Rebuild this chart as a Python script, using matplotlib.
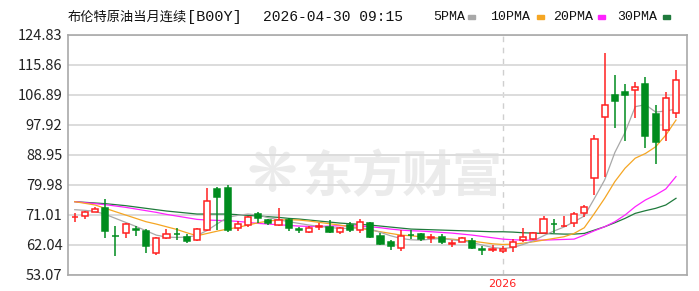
import matplotlib
matplotlib.use("Agg")
import matplotlib.pyplot as plt
import numpy as np

plt.rcParams['font.family'] = ['Noto Sans CJK SC', 'DejaVu Sans']

title_cn = "布伦特原油当月连续"
title_code = "[B00Y]"
title_time = "2026-04-30 09:15"
yticks = [53.07, 62.04, 71.01, 79.98, 88.95, 97.92, 106.89, 115.86, 124.83]
year_label = "2026"
year_index = 42

opens = [70.3, 70.7, 72.0, 73.0, 64.8, 65.5, 66.8, 66.3, 59.5, 64.2,
         65.4, 64.5, 63.5, 66.5, 78.7, 79.0, 67.0, 68.0, 71.2, 69.5,
         68.0, 69.6, 66.8, 66.0, 67.4, 67.5, 65.8, 68.0, 66.5, 68.7,
         64.7, 62.8, 61.0, 65.1, 65.3, 64.2, 64.5, 62.4, 63.0, 63.3,
         60.8, 60.5, 60.3, 61.5, 63.5, 63.8, 65.5, 68.4, 67.6, 68.5,
         71.5, 82.0, 100.2, 106.9, 107.7, 108.4, 110.1, 101.2, 96.4, 101.5]
highs = [71.7, 72.3, 73.5, 75.7, 67.7, 68.6, 67.7, 66.7, 64.5, 66.7,
         67.0, 65.3, 67.0, 79.0, 79.5, 80.0, 69.3, 70.7, 72.0, 69.8,
         73.2, 70.2, 67.5, 67.7, 68.7, 69.5, 67.4, 68.8, 69.7, 69.0,
         65.5, 63.5, 66.5, 66.5, 65.5, 65.3, 65.3, 63.5, 64.3, 64.0,
         61.7, 62.0, 61.7, 63.7, 67.0, 66.0, 70.7, 69.7, 70.7, 72.0,
         74.0, 95.0, 119.5, 112.8, 110.2, 110.8, 112.4, 104.0, 107.9, 114.3]
lows = [69.0, 69.7, 71.8, 64.2, 58.7, 64.2, 64.7, 59.5, 59.0, 63.7,
        63.5, 62.5, 63.3, 66.2, 66.5, 66.0, 66.2, 67.5, 68.5, 68.0,
        67.7, 66.3, 65.5, 65.5, 66.5, 65.5, 65.3, 66.0, 65.7, 64.2,
        62.0, 60.5, 60.3, 63.7, 63.3, 62.5, 62.3, 61.5, 62.8, 60.7,
        59.0, 60.0, 59.5, 60.0, 63.0, 63.5, 65.3, 65.5, 67.5, 67.3,
        70.5, 77.0, 82.3, 97.0, 93.0, 100.0, 90.9, 86.4, 93.2, 100.0]
closes = [70.5, 71.8, 72.8, 66.3, 64.6, 68.2, 66.6, 61.7, 64.0, 65.2,
          65.2, 63.3, 66.8, 75.2, 76.3, 66.5, 68.3, 70.5, 70.0, 68.5,
          69.5, 67.0, 66.6, 67.2, 67.6, 66.0, 67.0, 66.5, 68.8, 64.5,
          62.2, 61.7, 64.7, 64.9, 63.7, 64.4, 63.0, 62.6, 64.0, 61.2,
          60.6, 60.7, 60.7, 63.0, 64.3, 65.7, 69.7, 68.2, 67.8, 71.3,
          73.5, 93.7, 103.9, 105.0, 106.8, 109.3, 94.7, 92.7, 105.9, 111.4]

ma5 = [72.6, 72.4, 72.1, 71.2, 70.0, 68.8, 67.6, 66.3, 65.0, 64.4,
       64.3, 64.4, 64.9, 66.4, 68.4, 70.3, 70.9, 71.3, 71.0, 70.2,
       69.6, 69.0, 68.5, 68.0, 67.6, 67.3, 67.0, 67.0, 67.2, 66.8,
       65.8, 64.8, 64.0, 63.6, 63.5, 63.8, 64.0, 63.6, 63.3, 62.8,
       62.0, 61.3, 61.0, 61.3, 62.2, 63.3, 64.8, 66.2, 67.4, 69.0,
       70.7, 76.0, 81.5, 89.7, 95.7, 103.4, 104.0, 101.8, 102.1, 102.7]
ma10 = [75.0, 74.5, 74.0, 73.0, 72.0, 71.0, 70.0, 69.0, 68.3, 67.5,
        66.7, 65.7, 64.8, 65.5, 66.2, 66.8, 67.3, 68.0, 68.7, 69.2,
        69.5, 69.6, 69.5, 69.2, 68.8, 68.4, 68.0, 67.5, 67.0, 66.5,
        66.0, 65.5, 65.0, 64.8, 64.5, 64.3, 64.0, 63.8, 63.5, 63.2,
        62.8, 62.4, 62.2, 62.3, 62.6, 63.0, 63.5, 64.0, 64.5, 65.5,
        67.2, 71.5, 76.0, 81.0, 85.0, 88.0, 89.4, 91.4, 94.9, 99.4]
ma20 = [75.0, 74.7, 74.4, 74.1, 73.7, 73.3, 72.8, 72.3, 71.8, 71.2,
        70.7, 70.2, 69.7, 69.5, 69.4, 69.3, 69.1, 68.8, 68.5, 68.3,
        68.1, 67.9, 67.7, 67.6, 67.6, 67.7, 67.8, 67.8, 67.7, 67.5,
        67.2, 66.8, 66.5, 66.3, 66.2, 66.0, 65.8, 65.6, 65.3, 65.0,
        64.6, 64.2, 63.8, 63.6, 63.5, 63.5, 63.5, 63.6, 63.7, 63.8,
        65.0, 66.3, 67.5, 69.0, 71.0, 73.5, 75.5, 77.0, 78.8, 82.5]
ma30 = [75.0, 74.8, 74.6, 74.4, 74.1, 73.8, 73.4, 73.0, 72.6, 72.2,
        71.9, 71.6, 71.3, 71.3, 71.3, 71.3, 71.1, 70.9, 70.7, 70.5,
        70.3, 70.0, 69.8, 69.5, 69.2, 68.9, 68.6, 68.4, 68.2, 68.0,
        67.7, 67.4, 67.1, 66.8, 66.7, 66.6, 66.5, 66.4, 66.3, 66.2,
        66.1, 66.0, 66.0, 65.9, 65.7, 65.6, 65.5, 65.4, 65.3, 65.3,
        65.5, 66.5, 67.5, 68.7, 70.0, 71.5, 72.3, 73.0, 74.0, 76.0]

ma_names = ["5PMA", "10PMA", "20PMA", "30PMA"]
ma_colors = ["#a8a8a8", "#f5a623", "#ff22ff", "#1f7a3c"]
up_color = "#ff2020"
down_color = "#008c1e"

fig = plt.figure(figsize=(6.99, 2.91), dpi=100)
ax = fig.add_axes([68/699, 16/291, (687-68)/699, (275-35)/291])

x = np.arange(len(opens))
o = np.array(opens); c = np.array(closes); h = np.array(highs); l = np.array(lows)
up = c >= o
cols = np.where(up, up_color, down_color)

ax.set_ylim(yticks[0], yticks[-1])
ax.set_xlim(-0.66, len(opens) - 1 + 1.08)
ax.set_yticks(yticks)
ax.yaxis.grid(True, color="#dcdcdc", linewidth=1.4, zorder=0)
ax.axvline(year_index, color="#cfcfcf", linestyle=(0, (4, 4)), linewidth=1.0, zorder=0)

# watermark
ax.text(0.54, 0.405, "东方财富", transform=ax.transAxes, fontsize=36, color="#ebebeb",
        ha="center", va="center", fontweight="bold", zorder=0)
ax.text(0.33, 0.42, "❋", transform=ax.transAxes, fontsize=44, color="#ebebeb",
        ha="center", va="center", family=["DejaVu Sans"], zorder=0)

for vals, col in zip([ma30, ma20, ma10, ma5], ma_colors[::-1]):
    ax.plot(x, vals, color=col, linewidth=0.9, zorder=2)

ax.vlines(x, l, h, colors=cols, linewidth=1.1, zorder=3)
body_h = np.maximum(np.abs(c - o), 0.15)
body_b = np.minimum(o, c)
face = np.where(up, "white", down_color)
ax.bar(x, body_h, bottom=body_b, width=0.6, color=face, edgecolor=cols,
       linewidth=1.1, zorder=4)

for s in ax.spines.values():
    s.set_color("#a9a9a9")
    s.set_linewidth(1.2)
ax.tick_params(axis="y", length=0, pad=4, labelsize=10.5, labelcolor="#222222")
ax.tick_params(axis="x", length=0)
ax.set_xticks([])
ax.text(year_index, -0.018, year_label, transform=ax.get_xaxis_transform(),
        color="#ff2020", fontsize=8, ha="center", va="top", family=["DejaVu Sans"])

ty = 1 - 17/291
mono = ["Liberation Mono", "DejaVu Sans Mono"]
fig.text(68/699, ty, title_cn, fontsize=9.5, ha="left", va="center", color="#111111")
fig.text(187/699, ty, title_code, fontsize=11, ha="left", va="center", color="#111111",
         family=mono)
fig.text(263/699, ty, title_time, fontsize=10.5, ha="left", va="center", color="#111111",
         family=mono)
lx = [433, 490, 553, 617]
for name, px in zip(ma_names, lx):
    fig.text(px/699, ty, name, fontsize=9.5, ha="left", va="center", color="#111111",
             family=mono)
for col, px in zip(ma_colors, [468, 537, 598, 663]):
    fig.patches.append(plt.Rectangle((px/699, ty - 2/291), 7/699, 4/291,
                                     transform=fig.transFigure, color=col))

fig.savefig("out.png", dpi=100)
